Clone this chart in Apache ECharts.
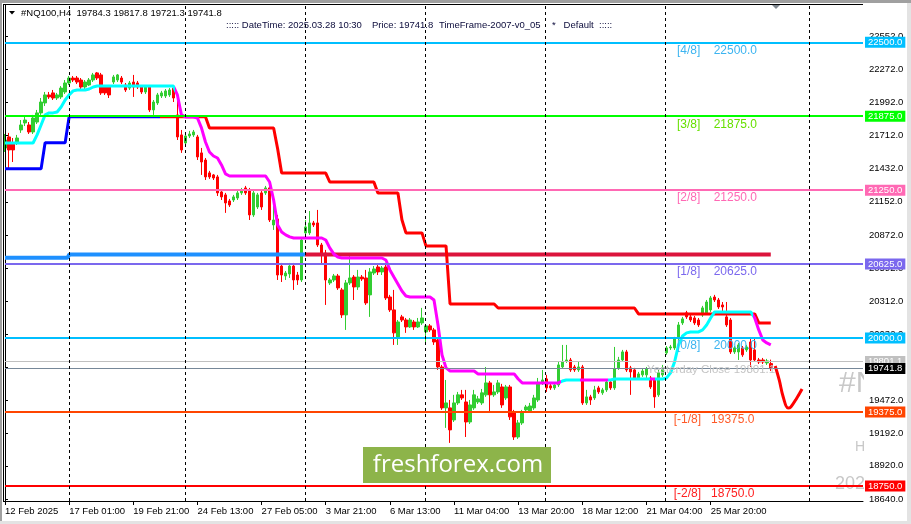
<!DOCTYPE html>
<html><head><meta charset="utf-8">
<script src="https://cdn.jsdelivr.net/npm/echarts/dist/echarts.min.js"></script>
<style>html,body{margin:0;padding:0;background:#fff}#c{width:911px;height:524px}</style>
</head><body><div id="c"></div>
<script>
// ---------------- DATA ----------------
const opens = [21606,21700,21649,21657,21759,21818,21801,21742,21826,21903,
21987,22055,22072,22029,22038,22080,22156,22198,22198,22181,
22122,22139,22181,22241,22224,22122,22122,22164,22181,22198,
22139,22113,22164,22156,22122,22080,22122,21928,21987,22046,
22046,22055,22113,21886,21717,21649,21708,21717,21700,21565,
21505,21396,21379,21362,21235,21210,21159,21167,21184,21227,
21269,21252,21041,21108,21227,21227,21269,20956,21007,20609,
20525,20542,20609,20533,20491,20889,20889,20973,20973,20787,
20719,20466,20491,20525,20407,20196,20466,20516,20432,20516,
20508,20365,20550,20601,20559,20601,20347,20238,20010,20179,
20153,20094,20136,20094,20128,20052,20103,20069,19984,19756,
19410,19410,19308,19452,19520,19460,19291,19410,19460,19452,
19520,19621,19520,19545,19587,19494,19587,19367,19164,19283,
19393,19384,19410,19477,19621,19655,19596,19579,19604,19756,
19807,19815,19756,19731,19756,19452,19503,19494,19579,19537,
19562,19629,19579,19748,19815,19883,19748,19731,19663,19689,
19689,19663,19646,19520,19689,19875,19917,19917,20010,20128,
20213,20179,20170,20153,20196,20213,20238,20347,20322,20280,
20179,20153,19883,19883,19917,19900,19967,19900,19815,19815,
19790,19784.3];
const closes = [21674,21590,21590,21691,21801,21843,21742,21860,21903,21995,
22055,22038,22029,22055,22113,22156,22198,22181,22164,22122,
22164,22181,22224,22198,22072,22072,22055,22207,22224,22164,
22097,22156,22122,22122,22080,22122,21928,21995,22055,22072,
22089,22097,22029,21700,21590,21708,21725,21742,21531,21488,
21362,21362,21353,21227,21193,21142,21125,21193,21227,21252,
21227,21041,21227,21210,21108,21269,20998,20998,20533,20533,
20550,20609,20491,20491,20829,20939,20973,20956,20787,20702,
20491,20491,20525,20424,20196,20466,20508,20432,20516,20500,
20297,20559,20584,20559,20592,20339,20238,20044,20136,20153,
20094,20153,20094,20136,20170,20103,20069,19967,19756,19410,
19452,19224,19452,19520,19494,19291,19435,19520,19486,19537,
19621,19520,19545,19621,19435,19587,19334,19164,19283,19376,
19418,19426,19494,19621,19646,19579,19579,19604,19773,19798,
19815,19731,19731,19756,19452,19503,19477,19562,19545,19562,
19629,19579,19739,19815,19883,19731,19714,19663,19697,19722,
19739,19587,19503,19706,19748,19917,19925,19993,20111,20162,
20179,20153,20128,20111,20255,20305,20339,20322,20263,20263,
20111,19883,19917,19942,19858,19925,19815,19815,19798,19798,
19807,19741.8];
const lows = [21573,21437,21488,21632,21734,21792,21725,21725,21809,21886,
21961,22021,22012,22012,22021,22063,22139,22164,22147,22105,
22105,22130,22164,22181,22055,22055,22029,22147,22164,22147,
22080,22097,22038,22105,22063,22063,21911,21886,21970,22029,
22029,22038,21995,21674,21565,21623,21691,21700,21505,21379,
21336,21345,21336,21201,21167,21058,21108,21150,21167,21210,
21210,20998,21024,21091,21083,21210,20981,20914,20491,20474,
20491,20508,20407,20449,20474,20872,20872,20939,20770,20618,
20280,20449,20474,20407,20170,20069,20449,20322,20407,20483,
20280,20179,20533,20533,20533,20322,20221,19942,19942,20136,
20044,20086,20069,20086,20111,19942,20052,19942,19731,19393,
19241,19114,19291,19435,19477,19164,19274,19393,19443,19435,
19503,19367,19503,19528,19410,19477,19308,19139,19148,19266,
19376,19367,19393,19460,19604,19545,19562,19562,19587,19739,
19790,19714,19714,19714,19435,19435,19435,19477,19528,19520,
19545,19562,19562,19731,19798,19714,19520,19646,19646,19672,
19663,19570,19410,19503,19672,19858,19900,19900,19984,20111,
20162,20136,20111,20094,20179,20196,20221,20305,20246,20196,
20094,19866,19866,19815,19841,19883,19756,19798,19781,19781,
19773,19721.3];
const highs = [21725,21734,21691,21717,21843,21869,21826,21886,21928,22029,
22080,22080,22097,22072,22130,22181,22215,22215,22215,22198,
22181,22198,22241,22249,22241,22139,22139,22224,22232,22215,
22156,22173,22224,22173,22139,22139,22139,22012,22072,22089,
22105,22113,22130,22012,21759,21734,21751,21759,21717,21607,
21522,21413,21387,21379,21252,21227,21176,21210,21244,21269,
21286,21269,21252,21227,21252,21286,21286,21125,21041,20635,
20567,20635,20635,20559,20846,20998,21074,20990,21083,20804,
20745,20508,20542,20542,20424,20491,20694,20533,20576,20533,
20576,20592,20609,20626,20609,20618,20365,20407,20153,20196,
20170,20170,20153,20170,20255,20111,20119,20086,20001,19773,
19646,19477,19520,19545,19562,19562,19477,19562,19511,19570,
19756,19638,19604,19646,19613,19604,19604,19393,19308,19393,
19435,19452,19520,19663,19731,19689,19613,19621,19798,19942,
19942,19832,19773,19798,19773,19562,19520,19596,19596,19579,
19646,19646,19925,19841,19900,19900,19765,19748,19714,19739,
19756,19680,19663,19731,19773,19933,19942,20010,20136,20179,
20230,20196,20187,20170,20272,20322,20356,20365,20339,20305,
20305,20170,19933,19959,19933,19942,20001,20001,19832,19832,
19824,19817.8];
// slow trailing line (blue = up, red = down)
const slowTrail = [21430,21430,21430,21430,21430,21430,21430,21430,21430,21430,
21650,21650,21650,21650,21650,21650,
21870,21870,21870,21870,21870,21870,21870,21870,21870,21870,21870,21870,21870,21870,21870,21870,21870,21870,21870,21870,21870,21870,21870,21870,21870,21870,21870,21870,21870,21870,21870,21870,21870,21870,21870,
21776,21776,21776,21776,21776,21776,21776,21776,21776,21776,21776,21776,21776,21776,21776,21776,21776,
21600,
21395,21395,21395,21395,21395,21395,21395,21395,21395,21395,21395,21395,
21319,21319,21319,21319,21319,21319,21319,21319,21319,21319,21319,21319,
21227,21227,21227,21227,21227,21227,
21000,
20889,20889,20889,20889,20889,
20779,20779,20779,20779,20779,20779,
20288,20288,20288,20288,20288,20288,20288,20288,20288,20288,20288,20288,
20254,20254,20254,20254,20254,20254,20254,20254,20254,20254,20254,20254,20254,20254,20254,20254,20254,20254,20254,20254,20254,20254,20254,20254,20254,20254,20254,20254,20254,20254,20254,20254,20254,20254,20254,
20204,20204,20204,20204,20204,20204,20204,20204,20204,20204,20204,20204,20204,20204,20204,20204,20204,20204,20204,20204,20204,20204,20204,20204,20204,20204,20204,20204,20204,20204,
20128,20128,20128,20128];
const slowColorBreak = 38.7;
// fast trailing line (cyan = up, magenta = down)
const fastTrail = [21649,21649,21649,21649,21649,21649,21649,21649,
21717,21801,21886,21903,21903,21911,21953,22012,22055,22089,22097,22097,22097,22105,22122,
22130,22130,22130,22130,22130,22130,22130,22130,22130,22130,22130,22130,22130,22130,22130,22130,22130,22130,22130,22130,
22055,21886,21869,21869,21869,21860,21776,21657,21573,21539,21522,21463,21387,
21370,21370,21370,21370,21370,21370,21370,21370,21370,21370,
21319,21167,20956,20897,20872,20855,
20846,20846,20846,20846,20846,20846,20846,20846,
20829,20762,20711,20685,
20677,20677,20677,20677,20677,20677,20677,20677,20677,20677,20677,
20660,20576,20516,20457,20398,20356,
20347,20347,20347,20347,20347,20347,
20322,20111,19857,19748,
19722,19722,19722,19722,19722,19722,19722,
19697,19697,19697,19697,19697,19697,19697,19697,19697,19697,
19654,
19621,19621,19621,19621,19621,19621,19621,19621,19621,19621,
19637,
19646,19646,19646,19646,19646,19646,19646,19646,19646,19646,19646,19646,
19654,19654,19654,19654,19654,19654,19654,19654,19654,19654,19654,19654,19654,
19663,19706,19798,19942,20018,20044,
20052,20052,20052,
20069,20111,20170,
20221,20221,20221,20221,20221,20221,20221,20221,20221,20221,
20170,20069,19984,19959,19942];
const fastColorBreaks = [42.5, 138.8, 143.5, 150.5, 160.8, 162.2, 186.5];
// horizontal level drawn by indicator (blue part then crimson part)
const blueLvlIdx = [0, 15.6, 16, 74.8];
const blueLvlVal = [20678, 20678, 20706, 20706];
const crimsonLvlIdx = [74.8, 191];
const crimsonLvlVal = [20706, 20706];
// hand-drawn projection
const sketchIdx = [192.1, 193.1, 194.1, 195.3, 196.0, 197.5, 198.8];
const sketchVal = [19764, 19646, 19502, 19409, 19418, 19494, 19570];
// Murrey math levels
const levelVals = [22500, 21875, 21250, 20625, 20000, 19375, 18750];
const levelNames = ['[4/8]', '[3/8]', '[2/8]', '[1/8]', '[0/8]', '[-1/8]', '[-2/8]'];
const yesterdayClose = 19801.1;
const lastPrice = 19741.8;
// time axis
const barCount = 215;
const timeTickIdx = [0, 16, 32, 48, 64, 80, 96, 112, 128, 144, 160, 176];
const timeTickLabels = ['12 Feb 2025', '17 Feb 01:00', '19 Feb 21:00', '24 Feb 13:00', '27 Feb 05:00', '3 Mar 21:00', '6 Mar 13:00', '11 Mar 04:00', '13 Mar 20:00', '18 Mar 12:00', '21 Mar 04:00', '25 Mar 20:00'];
const weekSepIdx = [16, 44.9, 74.8, 104.8, 134.7, 164.6, 200.5];
const priceTicks = [22552, 22272, 21992, 21712, 21432, 21152, 20872, 20592, 20312, 20032, 19752, 19472, 19192, 18920, 18640];

// ---------------- STYLE ----------------
const FONT = 'Liberation Sans';
const levelColors = ['#00BFFF', '#00FF00', '#FF69B4', '#7B68EE', '#00BFFF', '#FF4500', '#FF0000'];
const levelTextColors = ['#3CB4F0', '#66E000', '#FF69B4', '#7B68EE', '#3CB4F0', '#FF5A28', '#FF2020'];
const CLEAR = 'rgba(0,0,0,0)';

const cats = Array.from({length: barCount}, (_, i) => String(i));
const candleData = opens.map((o, i) => [o, closes[i], lows[i], highs[i]]);
const slowData = slowTrail.map((v, i) => [i, v]);
const fastData = fastTrail.map((v, i) => [i, v]);

const fastPieces = [];
{
  const cols = ['#00FFFF', '#FF00FF'];
  const edges = [-10].concat(fastColorBreaks, [barCount + 10]);
  for (let k = 0; k < edges.length - 1; k++) {
    fastPieces.push({gte: edges[k], lt: edges[k + 1], color: cols[k % 2]});
  }
}
const slowPieces = [
  {gte: -10, lt: slowColorBreak, color: '#0000FF'},
  {gte: slowColorBreak, lt: barCount + 10, color: '#FF0000'}
];

const boxLabel = (bg, txt) => ({
  show: true, position: 'end', distance: 2, formatter: txt,
  backgroundColor: bg, color: '#fff', fontFamily: FONT, fontSize: 9.5,
  padding: [1, 3, 0, 3], lineHeight: 10
});

const mlData = [];
levelVals.forEach((v, k) => {
  mlData.push({yAxis: v, lineStyle: {color: levelColors[k], width: 2, type: 'solid'},
    label: boxLabel(levelColors[k], v.toFixed(1))});
});
mlData.push({yAxis: yesterdayClose, lineStyle: {color: '#C0C0C0', width: 1, type: 'solid'},
  label: boxLabel('#C0C0C0', yesterdayClose.toFixed(1))});
mlData.push({yAxis: lastPrice, lineStyle: {color: '#778899', width: 1, type: 'solid'},
  label: boxLabel('#000000', lastPrice.toFixed(1))});
levelVals.forEach((v, k) => {
  const neg = levelNames[k].indexOf('-') >= 0;
  mlData.push([
    {coord: [neg ? 166.3 : 167.1, v], lineStyle: {color: CLEAR, width: 1, opacity: 1},
      label: {show: true, position: 'insideStartBottom', distance: 2, opacity: 1,
        formatter: levelNames[k] + (neg ? '   ' : '    ') + v.toFixed(1),
        color: levelTextColors[k], fontFamily: FONT, fontSize: 12}},
    {coord: [205, v]}
  ]);
});
mlData.push([
  {coord: [140, yesterdayClose], lineStyle: {color: CLEAR, width: 1, opacity: 1},
    label: {show: true, position: 'insideEndBottom', distance: 2, opacity: 1,
      formatter: 'Yesterday Close ' + yesterdayClose.toFixed(1),
      color: '#C4C4C4', fontFamily: FONT, fontSize: 11.5}},
  {coord: [192.6, yesterdayClose]}
]);
weekSepIdx.forEach(x => mlData.push({xAxis: x, lineStyle: {color: '#000', width: 1, type: [3, 3]}, label: {show: false}}));

const chart = echarts.init(document.getElementById('c'), null, {renderer: 'canvas', width: 911, height: 524});
chart.setOption({
  animation: false,
  backgroundColor: '#ffffff',
  grid: {left: 5, right: 48, top: 5, bottom: 23, containLabel: false, outerBoundsMode: 'none'},
  xAxis: [{
    type: 'category', data: cats, boundaryGap: false,
    axisLine: {lineStyle: {color: '#000', width: 1}},
    axisTick: {show: true, length: 4, lineStyle: {color: '#000'}, interval: (i) => timeTickIdx.indexOf(i) >= 0},
    axisLabel: {interval: (i) => timeTickIdx.indexOf(i) >= 0, align: 'left', margin: 5,
      formatter: (v, i) => { const k = timeTickIdx.indexOf(i); return k >= 0 ? timeTickLabels[k] : ''; },
      fontFamily: FONT, fontSize: 9.5, color: '#000'},
    splitLine: {show: false}
  }, {
    type: 'value', min: 0, max: barCount - 1, show: false
  }],
  yAxis: [{
    type: 'value', position: 'right', min: 18623, max: 22815, z: 3,
    axisLine: {show: true, lineStyle: {color: '#000', width: 1}},
    axisTick: {show: true, length: 3, lineStyle: {color: '#000'}, customValues: priceTicks},
    axisLabel: {customValues: priceTicks, formatter: v => v.toFixed(1), fontFamily: FONT, fontSize: 9.5, color: '#000', margin: 6},
    splitLine: {show: false}
  }],
  visualMap: [
    {show: false, type: 'piecewise', seriesIndex: 3, dimension: 0, pieces: slowPieces},
    {show: false, type: 'piecewise', seriesIndex: 4, dimension: 0, pieces: fastPieces}
  ],
  series: [
    {type: 'candlestick', xAxisIndex: 0, yAxisIndex: 0, data: candleData, barWidth: 3,
      itemStyle: {color: '#32CD32', color0: '#FF0000', borderColor: '#32CD32', borderColor0: '#FF0000', borderWidth: 1}},
    {type: 'line', xAxisIndex: 1, yAxisIndex: 0, data: crimsonLvlIdx.map((x, i) => [x, crimsonLvlVal[i]]),
      symbol: 'none', lineStyle: {color: '#DC143C', width: 4},
      markLine: {silent: true, symbol: ['none', 'none'], animation: false, data: mlData}},
    {type: 'line', xAxisIndex: 1, yAxisIndex: 0, data: blueLvlIdx.map((x, i) => [x, blueLvlVal[i]]),
      symbol: 'none', lineStyle: {color: '#1E90FF', width: 4}},
    {type: 'line', xAxisIndex: 1, yAxisIndex: 0, data: slowData, symbol: 'none', lineStyle: {width: 3}},
    {type: 'line', xAxisIndex: 1, yAxisIndex: 0, data: fastData, symbol: 'none', lineStyle: {width: 3}},
    {type: 'line', xAxisIndex: 1, yAxisIndex: 0, data: sketchIdx.map((x, i) => [x, sketchVal[i]]),
      symbol: 'none', smooth: 0.4, lineStyle: {color: '#FF0000', width: 3}}
  ],
  graphic: [
    {type: 'rect', z: 1, silent: true, shape: {x: 864, y: 0, width: 47, height: 524}, style: {fill: '#fff'}},
    // sunken window border
    {type: 'rect', z: 20, shape: {x: 0, y: 0, width: 911, height: 3}, style: {fill: '#A0A0A0'}},
    {type: 'rect', z: 20, shape: {x: 0, y: 0, width: 2, height: 524}, style: {fill: '#A0A0A0'}},
    {type: 'rect', z: 20, shape: {x: 0, y: 521, width: 911, height: 3}, style: {fill: '#E3E3E3'}},
    {type: 'rect', z: 20, shape: {x: 907, y: 3, width: 4, height: 521}, style: {fill: '#E3E3E3'}},
    // plot frame (top & left)
    {type: 'line', z: 20, shape: {x1: 3, y1: 4.5, x2: 863, y2: 4.5}, style: {stroke: '#000', lineWidth: 1}},
    {type: 'line', z: 20, shape: {x1: 3.5, y1: 4.5, x2: 3.5, y2: 501}, style: {stroke: '#000', lineWidth: 1}},
    {type: 'line', z: 20, shape: {x1: 3, y1: 501.5, x2: 6, y2: 501.5}, style: {stroke: '#000', lineWidth: 1}},
    // header
    {type: 'polygon', z: 20, shape: {points: [[9, 11], [15, 11], [12, 14.5]]}, style: {fill: '#000'}},
    {type: 'text', z: 20, x: 21, y: 13, style: {text: '#NQ100,H4  19784.3 19817.8 19721.3 19741.8', fontFamily: FONT, fontSize: 9.5, fill: '#000', verticalAlign: 'middle'}},
    {type: 'text', z: 20, x: 226, y: 25, style: {text: '::::: DateTime: 2025.03.28 10:30', fontFamily: FONT, fontSize: 9.5, fill: '#0B0B3B', verticalAlign: 'middle'}},
    {type: 'text', z: 20, x: 372, y: 25, style: {text: 'Price: 19741.8', fontFamily: FONT, fontSize: 9.5, fill: '#0B0B3B', verticalAlign: 'middle'}},
    {type: 'text', z: 20, x: 439, y: 25, style: {text: 'TimeFrame-2007-v0_05', fontFamily: FONT, fontSize: 9.5, fill: '#0B0B3B', verticalAlign: 'middle'}},
    {type: 'text', z: 20, x: 552, y: 25, style: {text: '*   Default  :::::', fontFamily: FONT, fontSize: 9.5, fill: '#0B0B3B', verticalAlign: 'middle'}},
    {type: 'polygon', z: 20, shape: {points: [[772, 5], [780, 5], [776, 9]]}, style: {fill: '#808890'}},
    // watermark (clipped by the axis area)
    {type: 'text', z: 0, x: 839, y: 384, style: {text: '#NQ100', fontFamily: FONT, fontSize: 30, fill: '#C8C8C8', verticalAlign: 'middle'}},
    {type: 'text', z: 0, x: 855, y: 447, style: {text: 'H4', fontFamily: FONT, fontSize: 14, fill: '#C8C8C8', verticalAlign: 'middle'}},
    {type: 'text', z: 0, x: 835, y: 484, style: {text: '2025', fontFamily: FONT, fontSize: 18, fill: '#C8C8C8', verticalAlign: 'middle'}},
    // logo
    {type: 'rect', z: 20, shape: {x: 363, y: 447, width: 188, height: 36}, style: {fill: '#8DB44A'}},
    {type: 'text', z: 21, x: 458, y: 465, style: {text: 'freshforex.com', fontFamily: 'Open Sans', fontSize: 24, fill: '#fff', align: 'center', verticalAlign: 'middle'}}
  ]
});
</script></body></html>
